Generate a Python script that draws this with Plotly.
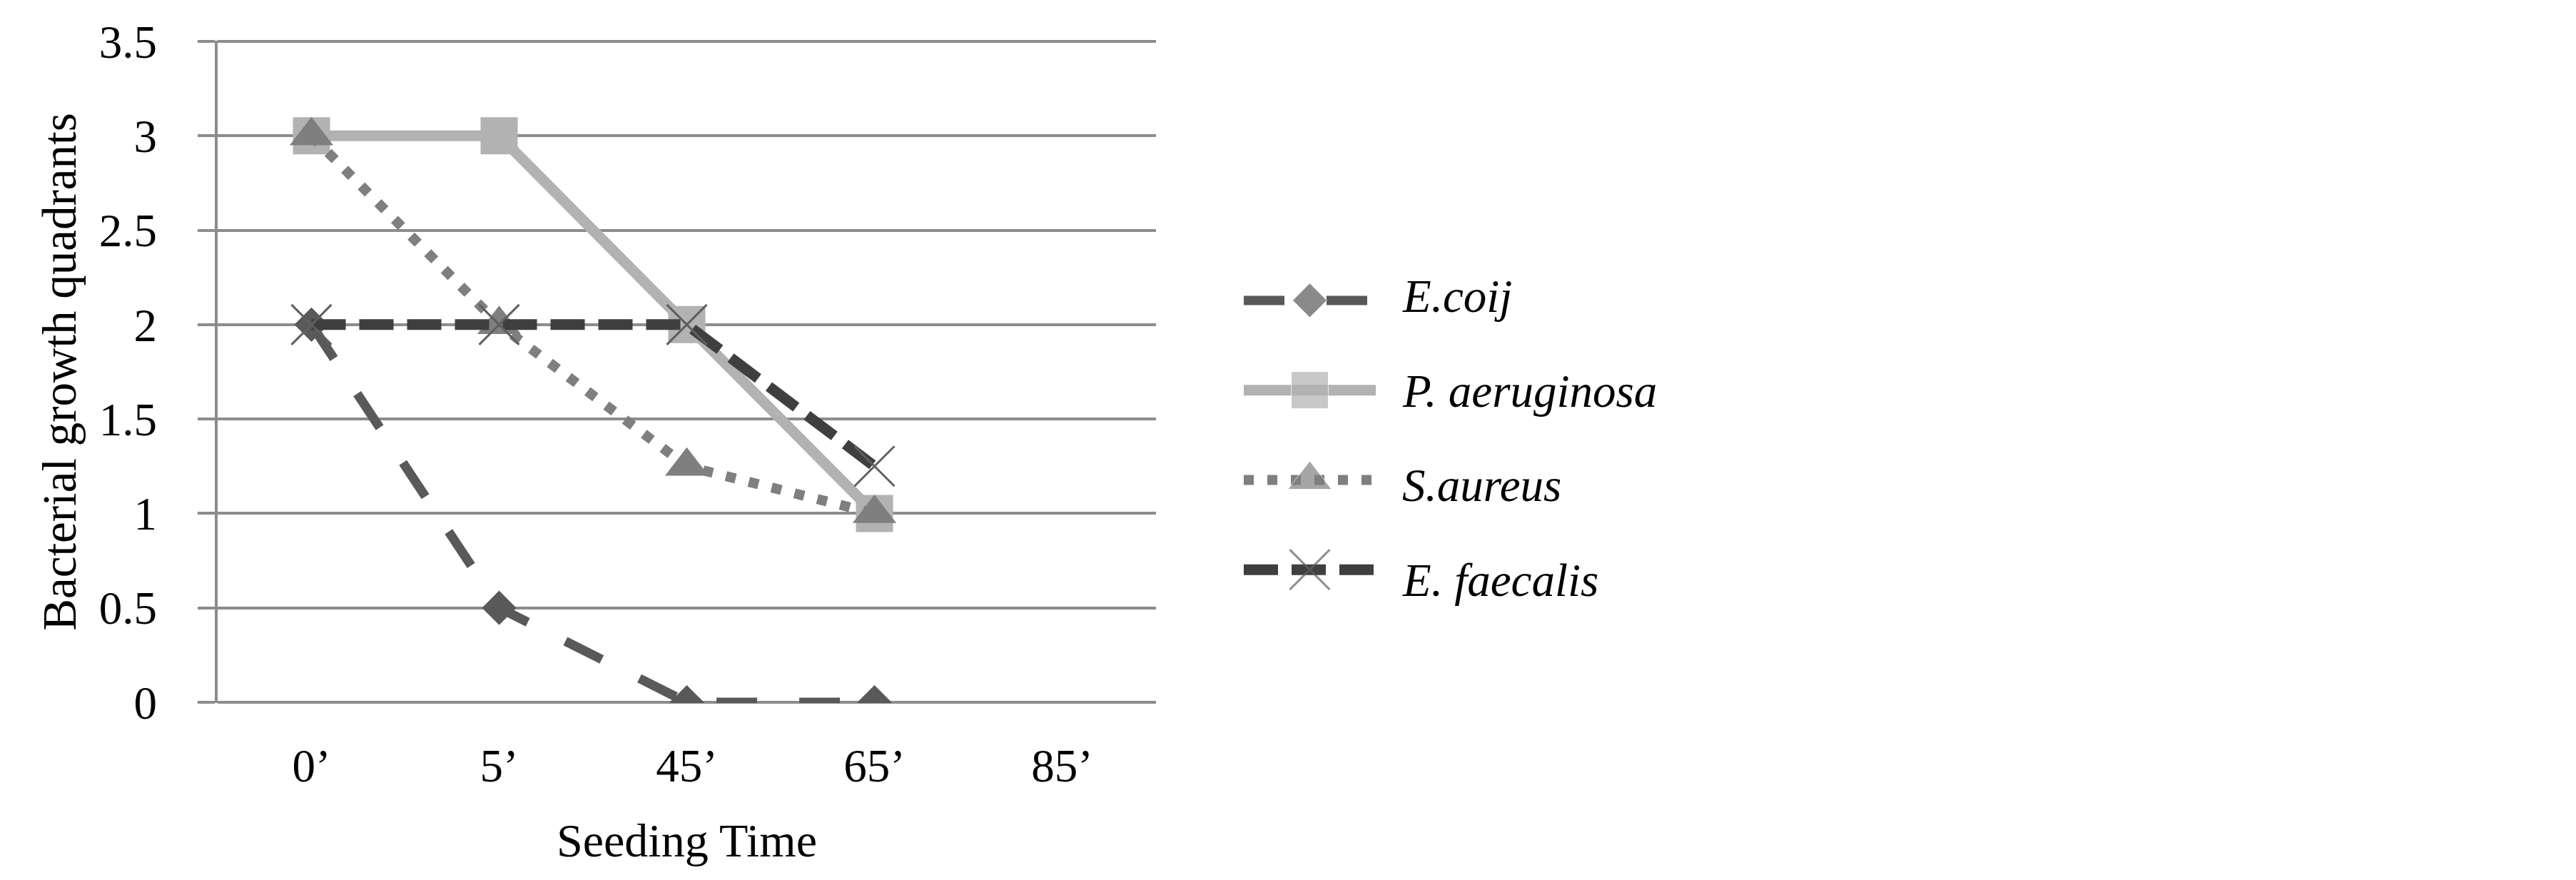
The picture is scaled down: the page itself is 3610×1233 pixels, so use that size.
import plotly.graph_objects as go

# ── データ ─────────────────────────────────────────────
seeding_time = ["0’", "5’", "45’", "65’", "85’"]
e_coij = [2, 0.5, 0, 0, None]
p_aeruginosa = [3, 3, 2, 1, None]
s_aureus = [3, 2, 1.25, 1, None]
e_faecalis = [2, 2, 2, 1.25, None]
series_names = ["E.coij", "P. aeruginosa", "S.aureus", "E. faecalis"]
y_ticks = [0, 0.5, 1, 1.5, 2, 2.5, 3, 3.5]

# ── スタイル ───────────────────────────────────────────
FONT = "'Times New Roman', 'Liberation Serif', serif"
GRID = "#8c8c8c"
W, H = 3610, 1233
STYLES = [
    dict(line=dict(color="#595959", width=13, dash="57px,59px"),
         marker=dict(symbol="diamond", size=37, color="#595959")),
    dict(line=dict(color="#b2b2b2", width=15),
         marker=dict(symbol="square", size=52, color="#b2b2b2")),
    dict(line=dict(color="#7f7f7f", width=14, dash="14px,19px"),
         marker=dict(symbol="triangle-up", size=53, color="#7f7f7f")),
    dict(line=dict(color="#3f3f3f", width=15, dash="48px,19px"),
         marker=dict(symbol="x-thin-open", size=56, color="#5f5f5f",
                     line=dict(color="#5f5f5f", width=3))),
]

fig = go.Figure()
for name, values, style in zip(series_names,
                               [e_coij, p_aeruginosa, s_aureus, e_faecalis],
                               STYLES):
    fig.add_trace(go.Scatter(
        x=seeding_time, y=values, name=name, mode="lines+markers",
        line=style["line"], marker=style["marker"], showlegend=False,
    ))

# 凡例（Excel風に長い線サンプルを描くため別軸で作る）
for i, (name, style) in enumerate(zip(series_names, STYLES)):
    marker = dict(style["marker"])
    marker["size"] = [0, style["marker"]["size"], 0]
    fig.add_trace(go.Scatter(
        x=[0, 1, 2], y=[i, i, i], mode="lines+markers",
        line=style["line"], marker=marker, showlegend=False,
        xaxis="x2", yaxis="y2", hoverinfo="skip",
    ))
    # 文字は記号より少しずつ下にずれている
    fig.add_annotation(
        x=2, y=i, xref="x2", yref="y2", text=name, showarrow=False,
        xanchor="left", yanchor="middle", xshift=35, yshift=6 - 7 * i,
        font=dict(family=FONT, size=65, color="black", style="italic"),
    )

fig.update_layout(
    width=W, height=H,
    paper_bgcolor="white", plot_bgcolor="white",
    font=dict(family=FONT, color="black", size=65),
    margin=dict(l=0, r=0, t=0, b=0),
    showlegend=False,
    xaxis=dict(
        domain=[297 / W, 1612 / W], anchor="y",
        type="category", range=[-0.5, 4.5], automargin=False,
        showgrid=False, zeroline=False, showline=False, ticks="",
        tickfont=dict(family=FONT, size=65, color="black"),
        ticklabelstandoff=44,
        title=dict(text="Seeding Time", standoff=45,
                   font=dict(family=FONT, size=66, color="black")),
    ),
    yaxis=dict(
        domain=[1 - 977 / H, 1 - 49 / H], anchor="x",
        range=[-0.004, 3.504], tickvals=y_ticks, automargin=False,
        showgrid=True, gridcolor=GRID, gridwidth=4,
        zeroline=False,
        showline=True, linecolor=GRID, linewidth=4,
        ticks="outside", ticklen=24, tickwidth=4, tickcolor=GRID,
        tickfont=dict(family=FONT, size=65, color="black"),
        ticklabelstandoff=44,
        title=dict(text="Bacterial growth quadrants", standoff=11,
                   font=dict(family=FONT, size=67, color="black")),
    ),
    xaxis2=dict(domain=[1735 / W, 1920 / W], range=[0, 2], visible=False,
                anchor="y2", fixedrange=True),
    yaxis2=dict(domain=[1 - 853 / H, 1 - 350 / H], range=[3.5, -0.5],
                visible=False, anchor="x2", fixedrange=True),
)

fig.write_html("out.html")
